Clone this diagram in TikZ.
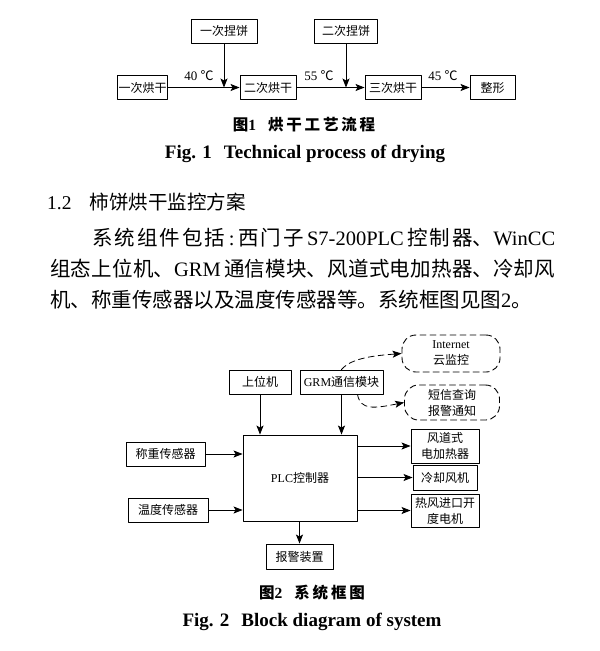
\documentclass[tikz,border=0pt]{standalone}
\usepackage{fontspec}
\setmainfont{Liberation Serif}
\newfontfamily\cjk{Noto Sans CJK SC}
\newfontfamily\cjkcap[LetterSpace=18]{Noto Sans CJK SC}
\usetikzlibrary{arrows.meta}
\XeTeXlinebreaklocale "zh"
\XeTeXlinebreakskip=0pt plus 3pt minus 0.5pt
\newcommand{\zh}[1]{{\cjk #1}}

\begin{document}
\begin{tikzpicture}[
	x=1pt, y=-1pt,
	line cap=round,
	line join=round,
	box/.style={draw, line width=0.9pt, minimum height=24pt, inner sep=1pt,
		align=center, font=\fontsize{12}{16}\selectfont},
	cloudbox/.style={draw, line width=0.9pt, dash pattern=on 6pt off 4pt,
		rounded corners=14pt, inner sep=1pt, align=center,
		font=\fontsize{12}{16}\selectfont},
	lbl/.style={inner sep=0pt, font=\fontsize{13}{15}\selectfont},
	arr/.style={line width=0.8pt, -{Stealth[length=9pt, width=7pt, inset=2pt]}},
	dasharr/.style={line width=0.8pt, dash pattern=on 6pt off 4pt,
		-{Stealth[length=9pt, width=7pt, inset=2pt]}},
	bodyline/.style={inner sep=0pt, anchor=west, font=\fontsize{20.5}{24}\selectfont}
	]
	
	\fill[white] (0,0) rectangle (600,651);
	\useasboundingbox (0,0) rectangle (600,651);
	
	% Fig. 1: drying process
	\node[box, minimum width=66pt] (k1) at (224,31) {\zh{一次捏饼}};
	\node[box, minimum width=63pt] (k2) at (346,31) {\zh{二次捏饼}};
	\node[box, minimum width=49pt] (h1) at (142.5,87.5) {\zh{一次烘干}};
	\node[box, minimum width=56pt] (h2) at (268,87.5) {\zh{二次烘干}};
	\node[box, minimum width=56pt] (h3) at (393,87.5) {\zh{三次烘干}};
	\node[box, minimum width=45pt] (zx) at (492.5,87.5) {\zh{整形}};
	
	\draw[arr] (h1) -- (h2);
	\draw[arr] (h2) -- (h3);
	\draw[arr] (h3) -- (zx);
	\draw[arr] (k1) -- (k1 |- h1);
	\draw[arr] (k2) -- (k2 |- h2);
	
	\node[lbl] (t1) at (199,76) {40 \zh{℃}};
	\node[lbl] (t2) at (319,76) {55 \zh{℃}};
	\node[lbl] (t3) at (443,76) {45 \zh{℃}};
	
	% captions
	\node[inner sep=0pt, font=\fontsize{15.5}{18}\selectfont] (cap1) at (304,125)
	{\cjkcap\bfseries 图{\rmfamily\bfseries 1}\hspace{12pt}烘干工艺流程};
	\node[inner sep=0pt, font=\fontsize{19}{22}\selectfont\bfseries] (fig1) at (305,154)
	{Fig. 1\hspace{12pt}Technical process of drying};
	
	% section text
	\node[bodyline, font=\fontsize{19.5}{24}\selectfont] (sec) at (47,202)
	{1.2\hspace{18pt}\zh{柿饼烘干监控方案}};
	\node[bodyline] (l1) at (50,238)
	{\parbox{505pt}{\parfillskip=0pt\hspace*{42pt}\zh{系统组件包括}\,:\,\zh{西门子}\,S7-200PLC\,\zh{控制器、}WinCC}};
	\node[bodyline] (l2) at (50,269)
	{\parbox{505pt}{\parfillskip=0pt\zh{组态上位机、}GRM\,\zh{通信模块、风道式电加热器、冷却风}}};
	\node[bodyline] (l3) at (50,300)
	{\parbox{505pt}{\zh{机、称重传感器以及温度传感器等。系统框图见图}2\zh{。}}};
	
	% Fig. 2: system block diagram
	\node[box, minimum width=62pt] (sw) at (260,382) {\zh{上位机}};
	\node[box, minimum width=83pt] (grm) at (341.5,382) {GRM\zh{通信模块}};
	\node[cloudbox, minimum width=98pt, minimum height=37pt] (inet) at (451,353.5)
	{Internet\\\zh{云监控}};
	\node[cloudbox, minimum width=95pt, minimum height=35pt] (sms) at (452,402.5)
	{\zh{短信查询}\\\zh{报警通知}};
	\node[box, minimum width=114pt, minimum height=86pt] (plc) at (300,478) {PLC\zh{控制器}};
	\node[box, minimum width=79pt] (cz) at (165.5,454) {\zh{称重传感器}};
	\node[box, minimum width=80pt] (wd) at (168,510) {\zh{温度传感器}};
	\node[box, minimum width=68pt, minimum height=34pt] (fd) at (445,446)
	{\zh{风道式}\\\zh{电加热器}};
	\node[box, minimum width=64pt, minimum height=25pt] (lq) at (445,477.5) {\zh{冷却风机}};
	\node[box, minimum width=68pt, minimum height=33pt] (rf) at (445,510.5)
	{\zh{热风进口开}\\\zh{度电机}};
	\node[box, minimum width=67pt, minimum height=25pt] (bj) at (299.5,556.5) {\zh{报警装置}};
	
	\draw[arr] (sw) -- (sw |- plc.north);
	\draw[arr] (grm) -- (grm |- plc.north);
	\draw[arr] (cz) -- (cz -| plc.west);
	\draw[arr] (wd) -- (wd -| plc.west);
	\draw[arr] (plc.east |- fd) -- (fd);
	\draw[arr] (plc.east |- lq) -- (lq);
	\draw[arr] (plc.east |- rf) -- (rf);
	\draw[arr] (plc.south -| bj) -- (bj);
	
	\draw[dasharr] (grm.north) .. controls +(10,-12) and +(-25,2) .. (inet.west);
	\draw[dasharr] ([xshift=16pt]grm.south) .. controls +(3,16) and +(-30,6) .. (sms.west);
	
	% captions
	\node[inner sep=0pt, font=\fontsize{15.5}{18}\selectfont] (cap2) at (312,593)
	{\cjkcap\bfseries 图{\rmfamily\bfseries 2}\hspace{12pt}系统框图};
	\node[inner sep=0pt, font=\fontsize{19}{22}\selectfont\bfseries] (fig2) at (312,622)
	{Fig. 2\hspace{12pt}Block diagram of system};
	
\end{tikzpicture}
\end{document}
